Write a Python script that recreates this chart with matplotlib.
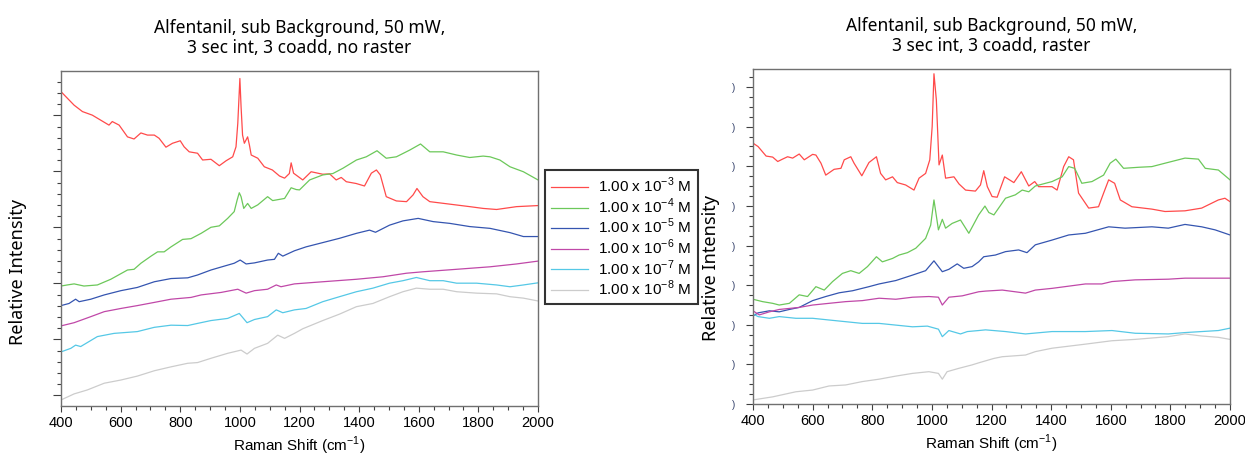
import matplotlib
matplotlib.use('Agg')
import matplotlib.pyplot as plt
from matplotlib.ticker import MultipleLocator, FixedFormatter, FixedLocator
import numpy as np

# spectra: (Raman shift cm-1, relative intensity)
# left panel: no raster
L_RED = [(400, 86.9), (444, 83.1), (472, 81.3), (505, 80.3), (533, 78.9), (561, 77.5), (572, 78.5),
         (595, 77.5), (623, 74.2), (645, 73.6), (668, 75.3), (690, 74.7), (713, 74.7), (729, 73.8),
         (752, 71.3), (774, 72.4), (800, 73.1), (813, 71.4), (830, 70.0), (858, 69.6), (875, 67.7),
         (903, 67.9), (931, 66.1), (954, 67.5), (976, 68.6), (987, 71.4), (993, 78.0), (1000, 90.6),
         (1004, 82.7), (1009, 74.7), (1015, 72.4), (1026, 74.2), (1032, 71.9), (1038, 69.1),
         (1060, 68.2), (1082, 65.8), (1109, 64.9), (1133, 63.2), (1150, 62.6), (1166, 63.9),
         (1172, 66.9), (1180, 64.0), (1206, 62.4), (1211, 62.1), (1239, 64.4), (1278, 63.7),
         (1301, 63.8), (1323, 62.1), (1340, 62.8), (1357, 61.6), (1390, 61.1), (1418, 60.4),
         (1441, 64.0), (1458, 64.9), (1471, 63.5), (1491, 57.4), (1525, 56.2), (1559, 56.0),
         (1581, 57.9), (1594, 59.7), (1614, 57.4), (1637, 56.0), (1704, 55.3), (1771, 54.6),
         (1816, 54.1), (1861, 53.8), (1928, 54.6), (2000, 54.9)]
L_GREEN = [(400, 32.3), (421, 32.6), (444, 32.9), (477, 32.3), (522, 32.6), (567, 34.2), (623, 36.8),
           (645, 37.0), (668, 38.7), (702, 40.7), (724, 41.9), (746, 41.9), (769, 43.3), (808, 45.4),
           (836, 45.6), (870, 47.1), (903, 48.8), (931, 49.2), (959, 51.3), (981, 53.2), (991, 56.5),
           (998, 58.5), (1004, 57.4), (1013, 54.1), (1026, 55.5), (1038, 54.1), (1060, 55.1),
           (1093, 57.4), (1110, 56.3), (1150, 56.9), (1172, 59.9), (1189, 59.4), (1200, 59.3),
           (1234, 62.1), (1278, 63.5), (1312, 63.9), (1346, 65.4), (1391, 67.7), (1424, 68.6),
           (1460, 70.3), (1491, 68.2), (1525, 68.6), (1570, 70.5), (1606, 72.2), (1637, 70.0),
           (1682, 70.0), (1727, 69.1), (1771, 68.4), (1816, 68.8), (1839, 68.6), (1872, 67.7),
           (1906, 65.8), (1951, 64.4), (2000, 62.1)]
L_BLUE = [(400, 26.8), (427, 27.4), (449, 28.6), (461, 27.9), (500, 28.6), (545, 29.8), (601, 31.0),
          (656, 31.9), (713, 33.5), (769, 34.4), (825, 34.6), (858, 35.4), (903, 36.8), (948, 37.9),
          (981, 38.7), (1001, 39.6), (1021, 38.5), (1049, 38.8), (1093, 39.6), (1116, 39.8),
          (1129, 41.5), (1144, 40.7), (1183, 42.2), (1222, 43.3), (1278, 44.5), (1334, 45.7),
          (1391, 47.1), (1435, 48.0), (1455, 47.4), (1502, 49.4), (1547, 50.6), (1598, 51.3),
          (1648, 50.4), (1704, 49.9), (1771, 49.0), (1839, 48.5), (1906, 47.3), (1951, 46.2),
          (2000, 46.2)]
L_MAGENTA = [(400, 21.1), (444, 22.0), (500, 23.7), (545, 25.1), (601, 26.0), (656, 26.8), (713, 27.7),
             (769, 28.6), (836, 29.1), (870, 29.8), (937, 30.5), (993, 31.4), (1021, 30.3),
             (1049, 31.0), (1093, 31.4), (1122, 32.6), (1138, 32.1), (1183, 32.9), (1278, 33.5),
             (1391, 34.2), (1480, 34.9), (1559, 35.9), (1614, 36.3), (1727, 37.0), (1839, 37.7),
             (1928, 38.5), (2000, 39.3)]
L_CYAN = [(400, 13.8), (433, 14.8), (449, 15.7), (466, 15.3), (522, 18.1), (578, 19.0), (656, 19.5),
          (713, 20.7), (769, 21.3), (825, 21.2), (858, 21.8), (903, 22.6), (959, 23.2), (998, 24.6),
          (1024, 22.0), (1049, 22.9), (1093, 23.7), (1122, 25.6), (1144, 24.8), (1183, 25.6),
          (1222, 26.0), (1278, 27.9), (1334, 29.3), (1391, 30.7), (1446, 31.7), (1502, 33.1),
          (1547, 33.8), (1592, 34.7), (1637, 33.8), (1682, 33.8), (1727, 33.1), (1794, 33.1),
          (1861, 32.6), (1906, 32.1), (1951, 32.6), (2000, 33.2)]
L_GRAY = [(400, 0.3), (444, 2.0), (488, 3.1), (545, 5.0), (601, 5.9), (656, 7.0), (713, 8.5), (769, 9.6),
          (825, 10.6), (858, 10.8), (903, 12.0), (959, 13.4), (1004, 14.3), (1024, 13.2), (1049, 14.8),
          (1093, 16.2), (1127, 18.5), (1150, 17.6), (1183, 19.0), (1211, 20.3), (1278, 22.6),
          (1334, 24.4), (1391, 26.5), (1446, 27.4), (1502, 29.3), (1547, 30.7), (1592, 31.7),
          (1637, 31.4), (1682, 31.4), (1727, 30.7), (1794, 30.3), (1861, 30.1), (1906, 29.3),
          (1951, 28.9), (2000, 28.1)]

# right panel: raster
R_RED = [(400, 77.0), (417, 76.0), (444, 73.2), (466, 72.9), (483, 71.6), (499, 72.3), (516, 73.0),
         (533, 72.6), (555, 73.8), (572, 72.1), (600, 73.7), (611, 73.5), (628, 71.1), (644, 67.6),
         (672, 69.3), (695, 69.6), (706, 72.1), (728, 73.0), (739, 71.1), (765, 67.4), (789, 71.3),
         (814, 73.0), (828, 68.1), (845, 66.2), (868, 67.1), (884, 65.4), (912, 64.7), (940, 63.2),
         (957, 66.7), (979, 68.1), (993, 72.1), (1001, 81.9), (1007, 97.4), (1015, 89.7),
         (1024, 70.6), (1035, 73.5), (1046, 66.7), (1074, 67.1), (1091, 65.0), (1113, 63.2),
         (1146, 62.9), (1163, 64.7), (1174, 68.9), (1186, 64.2), (1202, 61.3), (1219, 61.1),
         (1244, 67.1), (1275, 65.4), (1300, 68.6), (1325, 64.4), (1345, 65.7), (1358, 64.2),
         (1403, 64.2), (1420, 63.2), (1442, 70.1), (1459, 73.0), (1475, 72.1), (1492, 62.3),
         (1526, 57.9), (1559, 58.3), (1576, 62.3), (1593, 66.2), (1613, 65.2), (1632, 60.3),
         (1671, 58.3), (1738, 57.6), (1782, 56.9), (1849, 57.1), (1905, 57.9), (1961, 60.3),
         (1983, 60.8), (2000, 59.8)]
R_GREEN = [(400, 31.1), (432, 30.4), (466, 29.9), (488, 29.4), (522, 29.9), (555, 32.4), (583, 31.9),
           (611, 34.8), (639, 33.8), (667, 36.3), (700, 38.7), (728, 39.5), (756, 38.7), (784, 40.7),
           (814, 43.6), (834, 42.1), (868, 43.1), (890, 44.1), (918, 44.8), (946, 46.1), (979, 49.0),
           (996, 52.9), (1007, 60.3), (1022, 51.5), (1035, 54.6), (1046, 52.0), (1068, 53.4),
           (1096, 54.4), (1124, 50.5), (1157, 55.9), (1178, 58.5), (1191, 56.6), (1208, 55.9),
           (1247, 60.8), (1280, 61.8), (1303, 63.2), (1325, 62.7), (1347, 64.4), (1403, 65.7),
           (1437, 67.1), (1459, 70.1), (1479, 69.6), (1503, 65.2), (1537, 65.7), (1576, 67.6),
           (1598, 71.1), (1617, 72.3), (1643, 69.6), (1693, 69.9), (1738, 70.1), (1782, 71.1),
           (1849, 72.6), (1894, 72.3), (1917, 69.6), (1961, 69.1), (2000, 66.2)]
R_BLUE = [(400, 26.2), (417, 27.1), (455, 27.7), (488, 27.4), (522, 28.1), (555, 28.7), (600, 30.7),
          (644, 31.9), (689, 33.0), (734, 33.6), (789, 34.8), (823, 35.6), (879, 36.6), (935, 38.2),
          (979, 39.5), (1007, 42.4), (1035, 39.2), (1057, 39.9), (1085, 41.5), (1107, 40.2),
          (1135, 40.7), (1157, 42.1), (1174, 43.6), (1213, 44.1), (1247, 45.1), (1291, 45.6),
          (1319, 44.8), (1347, 47.1), (1403, 48.5), (1459, 50.0), (1515, 50.5), (1593, 52.4),
          (1648, 52.0), (1738, 52.4), (1793, 52.0), (1849, 53.1), (1905, 52.4), (1950, 51.5),
          (2000, 50.0)]
R_MAGENTA = [(400, 27.7), (421, 26.5), (455, 27.4), (488, 28.1), (522, 28.4), (555, 28.7), (600, 29.4),
             (655, 29.9), (711, 30.4), (767, 30.7), (823, 31.4), (879, 31.1), (935, 31.7), (990, 31.9),
             (1022, 31.7), (1035, 29.4), (1057, 31.7), (1102, 32.1), (1157, 33.3), (1180, 33.5),
             (1236, 33.8), (1314, 32.9), (1347, 33.8), (1403, 34.3), (1515, 35.6), (1570, 35.6),
             (1604, 36.3), (1682, 36.8), (1793, 37.0), (1849, 37.3), (1961, 37.3), (2000, 37.3)]
R_CYAN = [(400, 26.8), (417, 26.0), (455, 25.5), (488, 26.0), (544, 25.5), (600, 25.5), (655, 25.0),
          (711, 24.5), (767, 24.0), (823, 24.0), (879, 23.5), (935, 23.0), (985, 23.2), (1022, 22.3),
          (1035, 20.1), (1057, 21.9), (1096, 20.9), (1119, 21.6), (1157, 21.9), (1180, 22.1),
          (1247, 21.6), (1314, 20.9), (1403, 21.6), (1515, 21.6), (1604, 21.9), (1682, 21.1),
          (1793, 20.9), (1849, 21.3), (1961, 21.9), (2000, 22.6)]
R_GRAY = [(400, 1.5), (466, 2.4), (544, 3.9), (600, 4.4), (655, 5.6), (711, 5.9), (767, 6.9), (823, 7.6),
          (879, 8.5), (935, 9.3), (990, 9.8), (1022, 9.3), (1035, 7.6), (1051, 9.8), (1091, 10.8),
          (1135, 11.8), (1157, 12.4), (1208, 13.7), (1236, 14.2), (1314, 14.7), (1347, 15.7),
          (1403, 16.7), (1515, 17.9), (1604, 18.9), (1682, 19.3), (1793, 20.1), (1849, 20.9),
          (1905, 20.3), (1961, 19.9), (2000, 19.3)]

LABELS = [r'1.00 x 10$^{-3}$ M', r'1.00 x 10$^{-4}$ M', r'1.00 x 10$^{-5}$ M',
          r'1.00 x 10$^{-6}$ M', r'1.00 x 10$^{-7}$ M', r'1.00 x 10$^{-8}$ M']
COLORS = ['#ff4a4a', '#6cc85a', '#3555b0', '#c048a8', '#55c8e6', '#cccccc']

TITLE_L = 'Alfentanil, sub Background, 50 mW,\n3 sec int, 3 coadd, no raster'
TITLE_R = 'Alfentanil, sub Background, 50 mW,\n3 sec int, 3 coadd, raster'

plt.rcParams['font.family'] = ['Liberation Sans', 'DejaVu Sans']
plt.rcParams['mathtext.fontset'] = 'custom'
plt.rcParams['mathtext.rm'] = 'Liberation Sans'

fig = plt.figure(figsize=(12.45, 4.58), dpi=100)
axL = fig.add_axes([61 / 1245, 1 - 406 / 458, 477 / 1245, 335 / 458])
axR = fig.add_axes([753 / 1245, 1 - 404 / 458, 477 / 1245, 335 / 458])

left_series = [L_RED, L_GREEN, L_BLUE, L_MAGENTA, L_CYAN, L_GRAY]
right_series = [R_RED, R_GREEN, R_BLUE, R_MAGENTA, R_CYAN, R_GRAY]

handles = []
for data, col, lab in zip(left_series, COLORS, LABELS):
    arr = np.array(data)
    h, = axL.plot(arr[:, 0], arr[:, 1], color=col, lw=0.9, label=lab)
    handles.append(h)
for data, col in zip(right_series, COLORS):
    arr = np.array(data)
    axR.plot(arr[:, 0], arr[:, 1], color=col, lw=0.9)

axL.set_ylim(-1.4, 92.7)
axR.set_ylim(0.3, 98.8)

for ax in (axL, axR):
    ax.set_xlim(400, 2000)
    ax.xaxis.set_major_locator(MultipleLocator(200))
    ax.xaxis.set_minor_locator(MultipleLocator(50))
    ax.tick_params(axis='both', which='both', direction='out', colors='#404040',
                   labelcolor='black', labelsize=10.5, width=0.8)
    ax.tick_params(which='major', length=4)
    ax.tick_params(which='minor', length=3)
    for s in ax.spines.values():
        s.set_color('#707070')
        s.set_linewidth(1.0)
    ax.set_xlabel(r'Raman Shift (cm$^{-1}$)', fontsize=11, labelpad=3)

# left y: unlabelled ticks
axL.yaxis.set_major_locator(MultipleLocator(15.73, offset=1.6))
axL.yaxis.set_minor_locator(MultipleLocator(3.146, offset=1.6))
axL.tick_params(axis='y', which='major', length=6)
axL.set_yticklabels([])

# right y: labels clipped to a sliver
r_major = [0.3 + 11.65 * k for k in range(9)]
axR.yaxis.set_major_locator(FixedLocator(r_major))
axR.yaxis.set_minor_locator(MultipleLocator(2.9125, offset=0.3))
axR.yaxis.set_major_formatter(FixedFormatter([')'] * len(r_major)))
axR.tick_params(axis='y', which='major', length=5, labelsize=7, labelcolor='#33406a', pad=8)

for ax, ttl in ((axL, TITLE_L), (axR, TITLE_R)):
    ax.set_title(ttl, fontsize=12.5, family=['Noto Sans', 'DejaVu Sans'], pad=13,
                 linespacing=1.15)

fig.text(18 / 1245, 1 - 272 / 458, 'Relative Intensity', rotation=90, ha='center', va='center',
         fontsize=13, family=['Noto Sans', 'DejaVu Sans'], zorder=10)
fig.text(711 / 1245, 1 - 268 / 458, 'Relative Intensity', rotation=90, ha='center', va='center',
         fontsize=13, family=['Noto Sans', 'DejaVu Sans'], zorder=10)

leg = fig.legend(handles=handles, loc='upper left', bbox_to_anchor=(545 / 1245, 1 - 170 / 458),
                 fontsize=11, frameon=True, fancybox=False, handlelength=2.4,
                 labelspacing=0.08, borderpad=0.4, handletextpad=0.7, borderaxespad=0)
leg.get_frame().set_edgecolor('black')
leg.get_frame().set_linewidth(1.5)

fig.savefig('out.png', dpi=100)
